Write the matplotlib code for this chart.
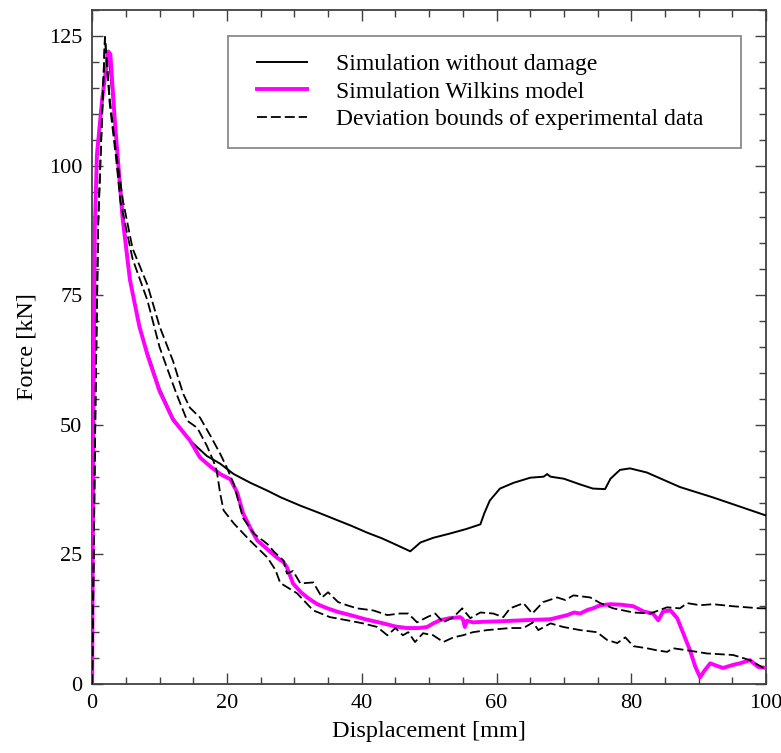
import matplotlib
matplotlib.use('Agg')
import matplotlib.pyplot as plt
import matplotlib.patches as patches
from matplotlib.ticker import MultipleLocator

plt.rcParams['font.family'] = ['Liberation Serif', 'DejaVu Serif']

# Simulation without damage
noDamageX = [0, 0.2, 0.4, 0.7, 1.5, 2.4, 3.4, 4.5, 5.6, 7, 8.2, 10, 12, 14.5, 17, 19, 21, 23.5, 26, 28,
             30.9, 33.5, 35.8, 38.5, 40.8, 43, 44.7, 46.2, 47.2, 48, 48.7, 50.6, 53, 55.5, 57.6, 58.2, 59,
             60.5, 62.5, 65, 67, 67.5, 68, 70, 72.4, 74.3, 76.1, 76.9, 78.3, 79.8, 82.3, 87.2, 92.1, 100]
noDamageY = [0, 55, 88, 101, 113, 122, 108, 92, 78, 69, 64, 57, 51.3, 47, 44, 42.5, 40.5, 38.8, 37.3, 36,
             34.4, 33.1, 31.9, 30.5, 29.2, 28.1, 27.1, 26.2, 25.6, 26.5, 27.3, 28.2, 29, 29.9, 30.8, 33, 35.4,
             37.7, 38.8, 39.8, 40, 40.5, 40, 39.6, 38.5, 37.7, 37.6, 39.6, 41.3, 41.6, 40.8, 38, 36, 32.5]

# Simulation Wilkins model
wilkinsX = [0, 0.2, 0.4, 0.7, 1.5, 2.4, 2.7, 3.4, 4.5, 5.6, 7, 8.2, 10, 12, 14.5, 16, 17.5, 19, 20.5, 21.5,
            22.4, 23.5, 24.5, 26, 27.4, 28.4, 28.9, 29.8, 30.9, 31.9, 33.4, 34.9, 36.5, 38.3, 40.5, 43.2, 45,
            46.7, 48.5, 49.7, 50.6, 51.6, 53, 54.6, 55, 55.3, 55.6, 56.5, 58, 60.5, 64, 68, 70.5, 71.5, 72.4,
            73.5, 74.3, 75.4, 76.9, 78.5, 80.3, 81.8, 83.2, 84, 84.7, 85.8, 86.8, 87.7, 88.7, 89.5, 90.2, 90.8,
            91.7, 92.5, 93.6, 95.1, 96.1, 97.6, 98.8, 100]
wilkinsY = [0, 55, 88, 102, 113, 122, 121.5, 108, 90, 78, 69, 63.5, 56.5, 51, 47, 43.7, 42, 40.5, 39.5, 37,
            32.9, 30, 27.7, 26, 24.4, 23.5, 22.5, 19.4, 17.8, 16.7, 15.4, 14.6, 13.9, 13.3, 12.5, 11.7, 11.1,
            10.8, 10.8, 11, 11.7, 12.3, 12.7, 12.9, 12.5, 11, 12.2, 11.9, 12, 12.1, 12.3, 12.5, 13.3, 13.8, 13.6,
            14.3, 14.6, 15.2, 15.4, 15.3, 15, 14, 13.6, 12.3, 14, 14.2, 12.7, 9.8, 6.5, 3.3, 1.3, 2.5,
            4, 3.6, 3.1, 3.7, 4, 4.6, 3.3, 3.1]

# Deviation bounds of experimental data
upperX = [0, 0.5, 0.9, 1.2, 1.9, 2.6, 3.5, 4.6, 6, 8.2, 10, 12, 13.5, 14.5, 16, 17.5, 19, 20, 21, 22.4, 24,
          26, 27, 28.4, 28.9, 29.8, 30.9, 32.8, 34.1, 35, 36.5, 37.8, 39.3, 41.7, 43.8, 45.7, 46.9, 48.2,
          49.7, 50.9, 52.1, 53.6, 54.9, 56.1, 57.6, 59.5, 61, 62, 64, 65.3, 66.9, 69, 70.2, 71.4, 73.9, 75.4,
          77.3, 80.3, 82.8, 85.3, 87.2, 88.3, 90.2, 92.1, 95.1, 99.1, 100]
upperY = [0, 55, 89, 100, 124.8, 113, 103, 93, 84, 77, 69, 62.3, 56, 53.3, 51.4, 48, 44.4, 41.7, 38.6, 32, 29,
          27, 25.5, 23.8, 21.3, 21.8, 19.4, 19.6, 16.7, 17.7, 15.8, 15.2, 14.6, 14.2, 13.3, 13.6, 13.6, 11.9,
          12.9, 13.6, 11.9, 12.9, 14.6, 12.7, 13.8, 13.6, 12.9, 14.6, 15.6, 13.6, 15.8, 16.7, 16.2, 17.1, 16.7,
          15.6, 14.6, 13.8, 13.6, 14.8, 14.6, 15.6, 15.2, 15.4, 15, 14.6, 14.6]
lowerX = [0, 0.5, 0.9, 1.2, 1.9, 2.6, 3.5, 4.2, 6, 8.2, 10, 11.1, 12.5, 14.1, 15.6, 17, 18, 18.5, 19, 19.5,
          21, 23.4, 26, 27.2, 27.9, 30.4, 32.8, 35.3, 37.8, 40.2, 42.3, 43.8, 45, 46.1, 46.9, 47.9, 49.1,
          50.6, 52.1, 53.6, 55, 56.5, 58.6, 62, 64, 65.4, 66.2, 68, 69.9, 72.4, 74.9, 76.4, 77.9, 79.1, 80.3,
          82.3, 83.8, 85.3, 86.2, 88.3, 91.2, 95.1, 97.6, 99.6, 100]
lowerY = [0, 55, 89, 100, 124.8, 112, 102, 93, 82, 74, 65, 61, 56, 50.8, 49.4, 46, 43, 41, 36.7, 33.5,
          31, 27.7, 24.4, 22, 19.5, 17.5, 14.2, 12.9, 12.3, 11.7, 11, 9.4, 10.8, 9.4, 10, 8.1, 9.8,
          9.4, 8.1, 9, 9.4, 10, 10.4, 10.8, 10.8, 11.9, 10.4, 11.7, 11, 10.4, 10, 8.5, 7.9, 9, 7.3,
          6.9, 6.5, 6.2, 6.9, 6.5, 5.9, 5.6, 4.6, 3.1, 3]

fig = plt.figure(figsize=(7.81, 7.53), dpi=100)
ax = fig.add_axes([0.118, 0.0916, 0.863, 0.895])

dash = (0, (5.5, 2.2))
ax.plot(noDamageX, noDamageY, color='black', lw=1.4, label='Simulation without damage', zorder=3)
ax.plot(wilkinsX, wilkinsY, color='#ff00ff', lw=2.8, label='Simulation Wilkins model', zorder=4)
ax.plot(upperX, upperY, color='black', lw=1.3, ls=dash, label='Deviation bounds of experimental data', zorder=5)
ax.plot(lowerX, lowerY, color='black', lw=1.3, ls=dash, zorder=5)

ax.set_xlim(0, 100)
ax.set_ylim(0, 130)
ax.xaxis.set_major_locator(MultipleLocator(20))
ax.xaxis.set_minor_locator(MultipleLocator(5))
ax.yaxis.set_major_locator(MultipleLocator(25))
ax.yaxis.set_minor_locator(MultipleLocator(5))
ax.tick_params(which='both', direction='in', top=True, right=True, color='#404040', labelsize=16, pad=7)
ax.tick_params(which='major', length=8, width=1)
ax.tick_params(which='minor', length=5, width=1)
for s in ax.spines.values():
    s.set_color('#404040')
    s.set_linewidth(1.3)

ax.set_xlabel('Displacement [mm]', fontsize=17.5, labelpad=6)
ax.set_ylabel('Force [kN]', fontsize=17.5, labelpad=8)

# legend box drawn separately so the entries can sit inside with the original margins
box = patches.Rectangle((0.202, 0.795), 0.761, 0.166, transform=ax.transAxes, facecolor='white',
                        edgecolor='#808080', linewidth=1.2, zorder=9)
ax.add_patch(box)
leg = ax.legend(loc='upper left', bbox_to_anchor=(0.2448, 0.9355), frameon=False,
                fontsize=17, handlelength=2.1, handletextpad=1.23, labelspacing=0.25,
                borderpad=0, borderaxespad=0)
leg.set_zorder(10)

fig.savefig('out.png', dpi=100)
